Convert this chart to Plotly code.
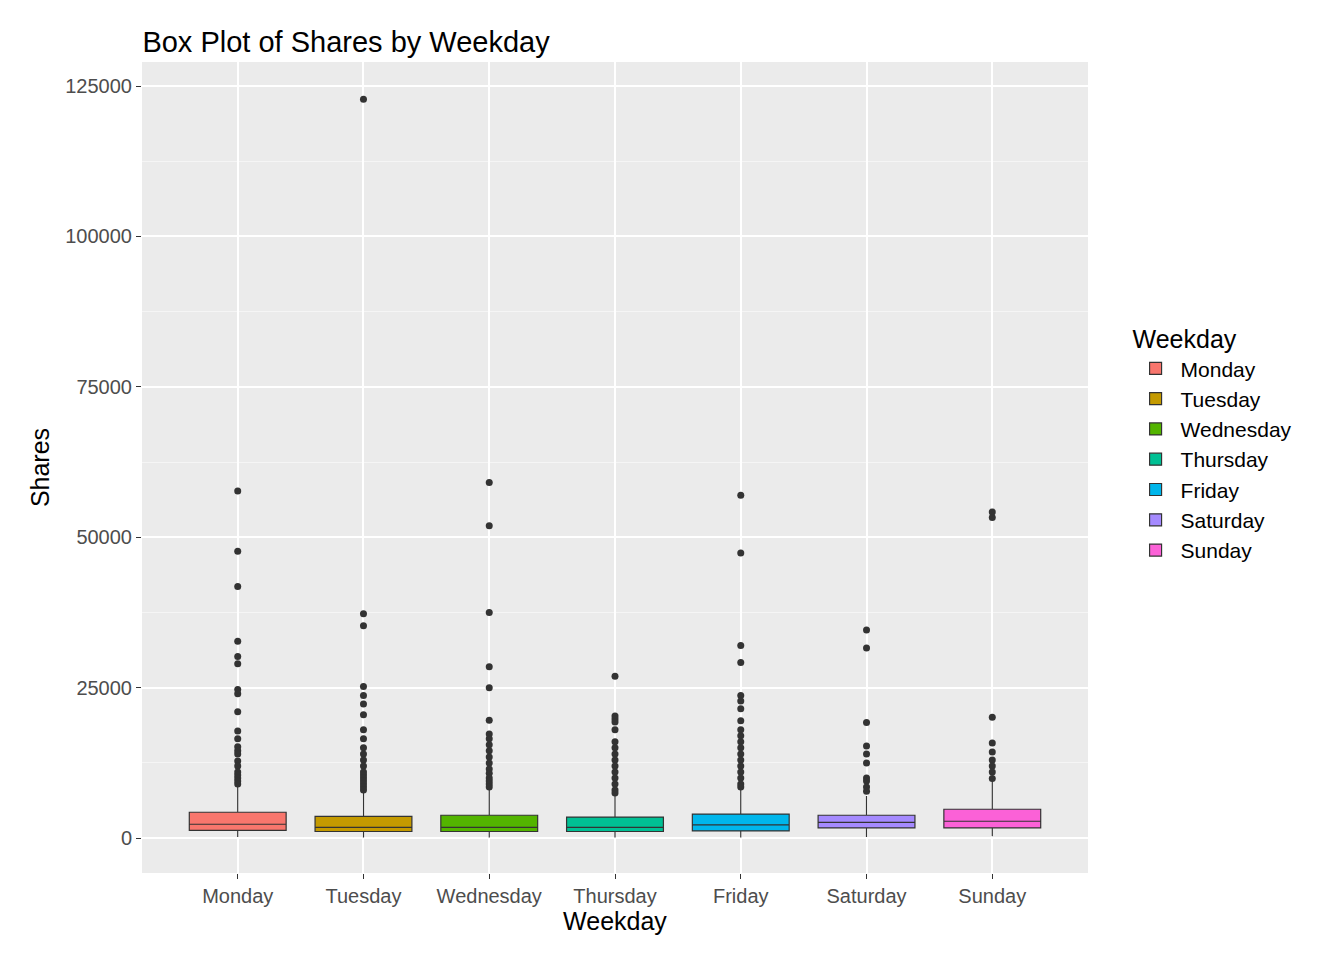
import plotly.graph_objects as go

days = ["Monday", "Tuesday", "Wednesday", "Thursday", "Friday", "Saturday", "Sunday"]
colors = ["#F8766D", "#C49A00", "#53B400", "#00C094", "#00B6EB", "#A58AFF", "#FB61D7"]

lower = [200, 100, 100, 100, 100, 200, 300]
q1 = [1300, 1100, 1100, 1100, 1200, 1700, 1700]
median = [2300, 1800, 1800, 1800, 2200, 2600, 2800]
q3 = [4300, 3600, 3800, 3500, 4000, 3800, 4800]
upper = [8500, 7500, 8000, 7000, 8000, 7000, 9500]

outliers = {
    "Monday": [57700, 47700, 41800, 32700, 30200, 29000, 24700, 24000, 21000, 17800, 16500,
               15200, 14500, 14000, 12800, 12000, 11000, 10500, 10000, 9500, 9000],
    "Tuesday": [122800, 37300, 35300, 25200, 23700, 22300, 20500, 18000, 16500, 15000, 14000,
                13000, 12000, 11000, 10500, 10000, 9500, 9000, 8500, 8000],
    "Wednesday": [59100, 51900, 37500, 28500, 25000, 19600, 17300, 16500, 15500, 14500, 13500,
                  12500, 11500, 10800, 10000, 9500, 9000, 8500],
    "Thursday": [26900, 20300, 19800, 19300, 18000, 16000, 15000, 14000, 13000, 12000, 11000,
                 10000, 9000, 8000, 7500],
    "Friday": [57000, 47400, 32000, 29200, 23700, 22800, 21500, 19500, 18000, 17000, 16000,
               15000, 14000, 13000, 12000, 11000, 10000, 9000, 8500],
    "Saturday": [34600, 31600, 19200, 15300, 14000, 12500, 10000, 9500, 8500, 7800],
    "Sunday": [54200, 53300, 20100, 15800, 14300, 13000, 12000, 11000, 9900],
}

fig = go.Figure()
for i, d in enumerate(days):
    fig.add_trace(go.Box(
        x=[d], q1=[q1[i]], median=[median[i]], q3=[q3[i]],
        lowerfence=[lower[i]], upperfence=[upper[i]],
        name=d, fillcolor=colors[i], line=dict(color="#333333", width=1.2),
        whiskerwidth=0, width=0.77, boxpoints=False, hoverinfo="y",
    ))
for d in days:
    fig.add_trace(go.Scatter(
        x=[d] * len(outliers[d]), y=outliers[d], mode="markers",
        marker=dict(color="#333333", size=7), showlegend=False,
    ))

fig.update_layout(
    width=1344, height=960,
    font=dict(family="Liberation Sans, Arial", color="#000000"),
    title=dict(text="Box Plot of Shares by Weekday", x=0.1, y=0.975, font=dict(size=29)),
    plot_bgcolor="#EBEBEB", paper_bgcolor="white",
    margin=dict(l=134, r=264, t=54, b=95),
    boxmode="overlay",
    legend=dict(title=dict(text="Weekday", font=dict(size=25)), font=dict(size=21),
                x=1.045, xanchor="left", y=0.53, yanchor="middle",
                bgcolor="white", itemwidth=40),
)
fig.update_xaxes(
    title=dict(text="Weekday", font=dict(size=25), standoff=4),
    categoryorder="array", categoryarray=days,
    showgrid=True, gridcolor="white", gridwidth=1.5,
    tickfont=dict(size=20, color="#4D4D4D"), ticks="outside", ticklen=5,
    tickcolor="#333333", zeroline=False,
)
fig.update_yaxes(
    title=dict(text="Shares", font=dict(size=25), standoff=8),
    range=[-5800, 129000], tick0=0, dtick=25000, tickformat="d",
    showgrid=True, gridcolor="white", gridwidth=1.5,
    minor=dict(dtick=12500, tick0=0, showgrid=True, gridcolor="#F5F5F5", gridwidth=0.8),
    tickfont=dict(size=20, color="#4D4D4D"), ticks="outside", ticklen=5,
    tickcolor="#333333", zeroline=False,
)

fig.write_html("out.html")
